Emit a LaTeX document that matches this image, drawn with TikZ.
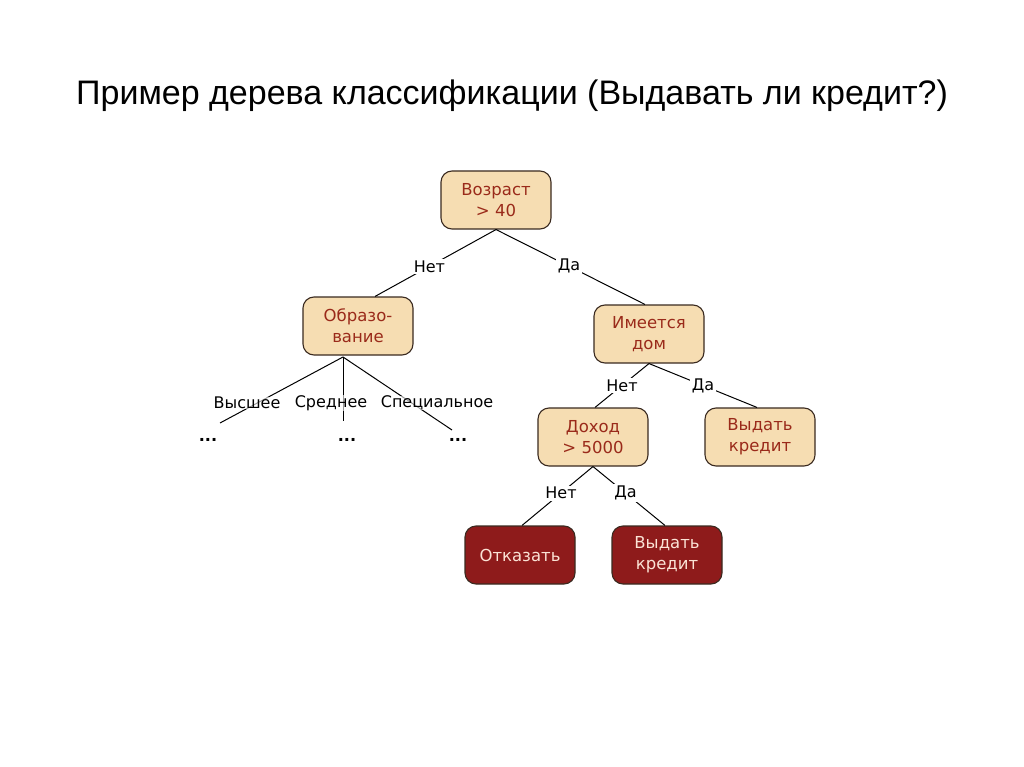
\documentclass[tikz,border=0pt]{standalone}
\usepackage{fontspec}
\setmainfont{Liberation Sans}
\newfontfamily\nodefont{DejaVu Sans}
\definecolor{boxfill}{HTML}{F6DDB2}
\definecolor{boxtext}{HTML}{9A2A1A}
\definecolor{darkfill}{HTML}{8E1B1B}
\definecolor{darktext}{HTML}{FBE3D6}
\definecolor{boxline}{HTML}{3A2A20}
\tikzset{
  x=1pt, y=-1pt,
  decision/.style={draw=boxline, line width=1.1pt, fill=boxfill, rounded corners=11pt,
    minimum width=110pt, minimum height=58pt, align=center, text=boxtext,
    font=\nodefont\fontsize{16.5}{21}\selectfont, inner sep=0pt},
  leaf/.style={decision, fill=darkfill, text=darktext},
  lbl/.style={fill=white, inner sep=1.5pt, font=\nodefont\fontsize{16}{18}\selectfont},
  plainlbl/.style={inner sep=0pt, font=\nodefont\fontsize{16}{18}\selectfont},
  dots/.style={inner sep=0pt, font=\nodefont\bfseries\fontsize{16}{18}\selectfont},
  edge/.style={draw=black, line width=1pt}
}
\begin{document}
\begin{tikzpicture}
\useasboundingbox[fill=white] (0,0) rectangle (1024,767);
\node[anchor=base, font=\fontsize{34}{40}\selectfont] (title) at (512,105) {Пример дерева классификации (Выдавать ли кредит?)};

\node[decision] (root) at (496,200) {Возраст\\> 40};
\node[decision] (obr) at (358,326) {Образо-\\вание};
\node[decision] (dom) at (649,334) {Имеется\\дом};
\node[decision] (doh) at (593,437) {Доход\\> 5000};
\node[decision] (give1) at (760,437) {Выдать\\кредит};
\node[leaf] (refuse) at (520,555) {Отказать};
\node[leaf] (give2) at (667,555) {Выдать\\кредит};

% root edges
\draw[edge] (root.south) -- node[lbl, pos=0.55] {Нет} ([xshift=17pt]obr.north);
\draw[edge] (root.south) -- node[lbl, pos=0.49] {Да} ([xshift=-4pt]dom.north);

% education branches
\coordinate (ea) at (343,357);
\coordinate (e1) at (220,423);
\coordinate (e2) at (343,421);
\coordinate (e3) at (452,430);
\draw[edge] (ea) -- (e1);
\draw[edge] (ea) -- (e2);
\draw[edge] (ea) -- (e3);
\node[plainlbl, fill=white, fill opacity=0.6, text opacity=1] (l1) at (247,403) {Высшее};
\node[plainlbl, fill=white, fill opacity=0.6, text opacity=1] (l2) at (331,403) {Среднее};
\node[plainlbl, fill=white, fill opacity=0.6, text opacity=1] (l3) at (437,403) {Специальное};
\node[dots] (d1) at (208,440) {...};
\node[dots] (d2) at (347,440) {...};
\node[dots] (d3) at (458,440) {...};

% house edges
\draw[edge] (dom.south) -- node[lbl, pos=0.5] {Нет} ([xshift=2pt]doh.north);
\draw[edge] (dom.south) -- node[lbl, pos=0.5] {Да} ([xshift=-3pt]give1.north);

% income edges
\draw[edge] (doh.south) -- node[lbl, pos=0.45] {Нет} ([xshift=2pt]refuse.north);
\draw[edge] (doh.south) -- node[lbl, pos=0.45] {Да} ([xshift=-2pt]give2.north);
\end{tikzpicture}
\end{document}
